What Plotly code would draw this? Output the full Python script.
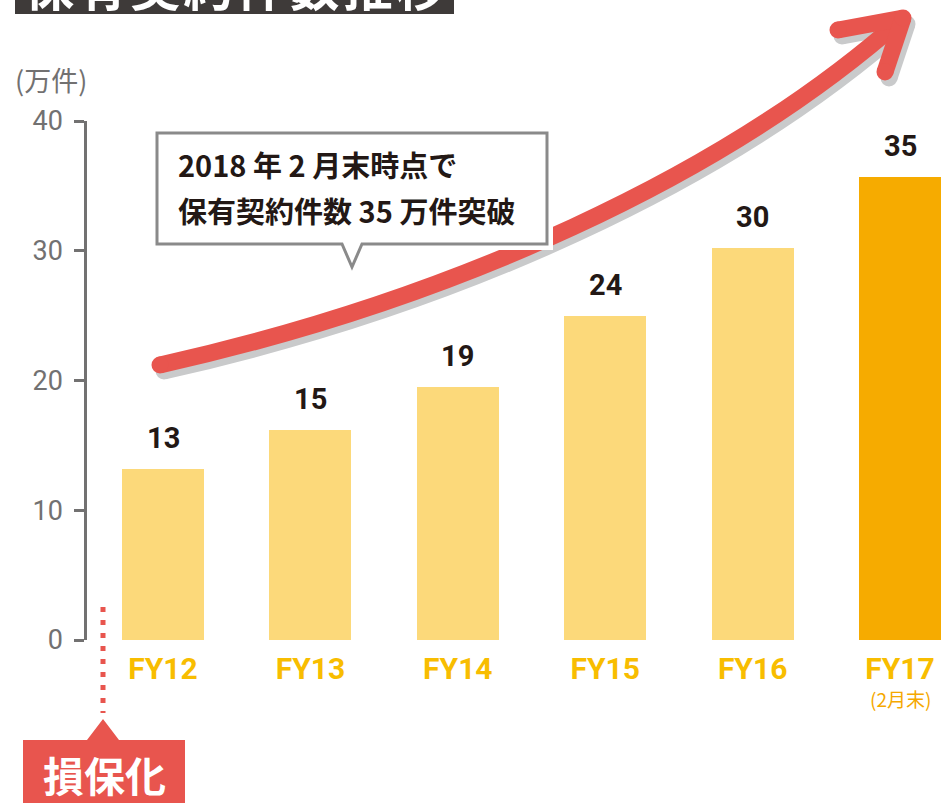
import plotly.graph_objects as go

# ---------------- data ----------------
categories = ["FY12", "FY13", "FY14", "FY15", "FY16", "FY17"]
values = [13.2, 16.2, 19.5, 25.0, 30.2, 35.7]
value_labels = ["13", "15", "19", "24", "30", "35"]
y_ticks = [0, 10, 20, 30, 40]
y_unit = "(万件)"
last_note = "(2月末)"
callout_lines = ["2018 年 2 月末時点で", "保有契約件数 35 万件突破"]
title_text = "保有契約件数推移"
badge_text = "損保化"

# ---------------- styling ----------------
W_FIG, H_FIG = 941, 803
L, T, PW, PH = 87, 121, 854, 519
RED = "#E8554E"
SHADOW = "#C9CACB"
GRAY = "#727171"
DARK = "#231815"
GOLD = "#F8BD00"
LIGHT_BAR = "#FCD97A"
HI_BAR = "#F6AB00"
NUM_FONT = "Roboto, 'Noto Sans CJK JP', sans-serif"
JP_FONT = "'Noto Sans CJK JP', Roboto, sans-serif"

bar_colors = [LIGHT_BAR] * (len(categories) - 1) + [HI_BAR]


def px(x):
    return (x - L) / PW


def py(y):
    return (T + PH - y) / PH


def path(points, closed=False):
    s = ""
    for i, p in enumerate(points):
        s += ("M" if i == 0 else "L") + f"{px(p[0]):.5f},{py(p[1]):.5f} "
    return s + ("Z" if closed else "")


fig = go.Figure()
fig.add_trace(go.Bar(
    x=categories, y=values, marker_color=bar_colors, marker_line_width=0,
    width=0.556, hoverinfo="skip",
))

shapes = []
annotations = []

# ---- title box (clipped at top) ----
shapes.append(dict(type="rect", xref="paper", yref="paper",
                   x0=px(15), x1=px(454), y0=py(14), y1=py(-40),
                   fillcolor="#3E3A39", line_width=0, layer="above"))
annotations.append(dict(xref="paper", yref="paper", x=px(235), y=py(-16),
                        xanchor="center", yanchor="middle", showarrow=False,
                        text="\u200a".join(title_text),
                        font=dict(family=JP_FONT, size=50, color="white", weight="bold")))


# ---- rising arrow ----
def curve(dx, dy):
    p0 = (160 + dx, 365 + dy)
    c1 = (450 + dx, 300 + dy)
    c2 = (723 + dx, 178 + dy)
    p3 = (903 + dx, 18 + dy)
    return (f"M{px(p0[0]):.5f},{py(p0[1]):.5f} C{px(c1[0]):.5f},{py(c1[1]):.5f} "
            f"{px(c2[0]):.5f},{py(c2[1]):.5f} {px(p3[0]):.5f},{py(p3[1]):.5f}")


def dot(cx, cy, r, color):
    return dict(type="circle", xref="paper", yref="paper",
                x0=px(cx - r), x1=px(cx + r), y0=py(cy + r), y1=py(cy - r),
                fillcolor=color, line_width=0, layer="above")


LW = 17
for (dx, dy, col) in [(4, 6, SHADOW), (0, 0, RED)]:
    shapes.append(dict(type="path", xref="paper", yref="paper", path=curve(dx, dy),
                       line=dict(color=col, width=LW), layer="above"))
    for arm in [[(838 + dx, 30 + dy), (903 + dx, 18 + dy)],
                [(885 + dx, 72 + dy), (903 + dx, 18 + dy)]]:
        shapes.append(dict(type="path", xref="paper", yref="paper", path=path(arm),
                           line=dict(color=col, width=LW), layer="above"))
    for (cx, cy) in [(160, 365), (838, 30), (903, 18), (885, 72)]:
        shapes.append(dot(cx + dx, cy + dy, LW / 2, col))

# ---- callout box ----
callout = [(157, 133), (547, 133), (547, 244), (362, 244), (352, 267), (342, 244), (157, 244)]
shapes.append(dict(type="path", xref="paper", yref="paper", path=path(callout, True),
                   fillcolor="white", line=dict(color="white", width=12), layer="above"))
shapes.append(dict(type="path", xref="paper", yref="paper", path=path(callout, True),
                   fillcolor="white", line=dict(color="#8A8A8A", width=3), layer="above"))
for i, line in enumerate(callout_lines):
    annotations.append(dict(xref="paper", yref="paper", x=px(176), y=py(164 + 46 * i),
                            xanchor="left", yanchor="middle", showarrow=False, text=line,
                            font=dict(family=JP_FONT, size=29, color=DARK, weight="bold")))

# ---- dotted marker + badge ----
shapes.append(dict(type="line", xref="paper", yref="paper",
                   x0=px(103), x1=px(103), y0=py(607), y1=py(713),
                   line=dict(color=RED, width=5, dash="5px,8px"), layer="above"))
badge = [(23, 740), (87, 740), (103, 719), (119, 740), (185, 740), (185, 820), (23, 820)]
shapes.append(dict(type="path", xref="paper", yref="paper", path=path(badge, True),
                   fillcolor=RED, line_width=0, layer="above"))
annotations.append(dict(xref="paper", yref="paper", x=px(104), y=py(774),
                        xanchor="center", yanchor="middle", showarrow=False, text=badge_text,
                        font=dict(family=JP_FONT, size=41, color="white", weight="bold")))

# ---- unit label ----
annotations.append(dict(xref="paper", yref="paper", x=px(51), y=py(80),
                        xanchor="center", yanchor="middle", showarrow=False, text=y_unit,
                        font=dict(family=JP_FONT, size=27, color=GRAY)))

# ---- value labels ----
for c, v, lab in zip(categories, values, value_labels):
    annotations.append(dict(x=c, y=v, xref="x", yref="y", text=lab, showarrow=False,
                            xanchor="center", yanchor="bottom", yshift=12,
                            font=dict(family=NUM_FONT, size=29, color=DARK, weight="bold")))

# ---- note under last category ----
annotations.append(dict(x=categories[-1], xref="x", yref="paper", y=py(698),
                        text=last_note, showarrow=False, xanchor="center", yanchor="middle",
                        font=dict(family=JP_FONT, size=19, color="#F5A800")))

fig.update_layout(
    width=W_FIG, height=H_FIG,
    margin=dict(l=L, r=W_FIG - L - PW, t=T, b=H_FIG - T - PH),
    paper_bgcolor="white", plot_bgcolor="white",
    showlegend=False, bargap=0,
    shapes=shapes, annotations=annotations,
    xaxis=dict(type="category", range=[-0.516, 5.278], showline=False, showgrid=False,
               zeroline=False, ticks="", ticklabelstandoff=8,
               tickfont=dict(family=NUM_FONT, size=30, color=GOLD, weight="bold")),
    yaxis=dict(range=[0, 40], tickvals=y_ticks, showline=True, linecolor=GRAY, linewidth=2.5,
               ticks="outside", ticklen=10, tickwidth=2.5, tickcolor=GRAY,
               showgrid=False, zeroline=False, ticklabelstandoff=6,
               tickfont=dict(family=NUM_FONT, size=27, color=GRAY)),
)

fig.write_html("out.html", config={"displayModeBar": False},
               post_script="document.body.style.margin='0';document.body.style.overflow='hidden';")
